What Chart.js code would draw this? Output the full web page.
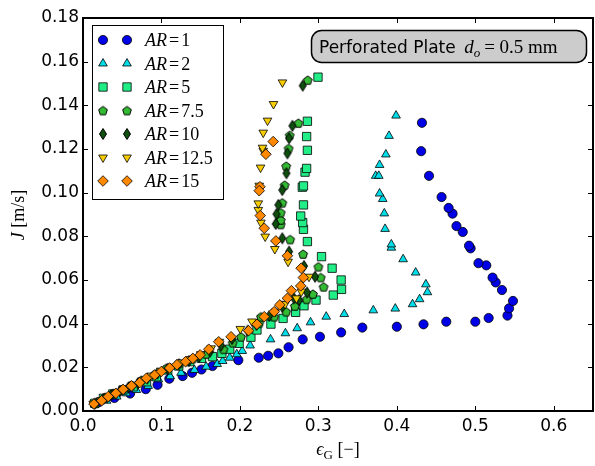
<!DOCTYPE html>
<html>
<head>
<meta charset="utf-8">
<script src="https://cdn.jsdelivr.net/npm/chart.js@4.4.1/dist/chart.umd.min.js"></script>
<style>
  body { margin: 0; background: #fff; }
  #wrap { width: 595px; height: 466px; }
</style>
</head>
<body>
<div id="wrap"><canvas id="chart" width="595" height="466"></canvas></div>
<script>
// data: [eps_G, J]
const arLabels = ['1', '2', '5', '7.5', '10', '12.5', '15']
const xTicks = [0, 0.1, 0.2, 0.3, 0.4, 0.5, 0.6]
const yTicks = [0, 0.02, 0.04, 0.06, 0.08, 0.10, 0.12, 0.14, 0.16, 0.18]

const ar1 = [[0.02,0.004],[0.04,0.006],[0.06,0.008],[0.08,0.010],[0.095,0.012],[0.11,0.0148],[0.127,0.016],[0.139,0.0175],
  [0.151,0.019],[0.165,0.0206],[0.198,0.0233],[0.224,0.0244],[0.236,0.0253],[0.249,0.0264],[0.262,0.0292],[0.280,0.0328],
  [0.302,0.034],[0.329,0.036],[0.356,0.0382],[0.400,0.0386],[0.434,0.0397],[0.463,0.0409],[0.500,0.0409],[0.517,0.0426],
  [0.541,0.0437],[0.543,0.047],[0.548,0.0504],[0.534,0.0554],[0.526,0.0589],[0.522,0.0611],[0.514,0.0667],[0.504,0.0677],
  [0.494,0.0745],[0.492,0.0757],[0.484,0.082],[0.476,0.0847],[0.471,0.0904],[0.466,0.093],[0.457,0.098],[0.441,0.1077],
  [0.431,0.119],[0.432,0.132]]
const ar2 = [[0.015,0.0032],[0.030,0.0047],[0.043,0.0066],[0.055,0.0081],[0.068,0.0096],[0.083,0.0115],[0.096,0.0145],
  [0.111,0.0159],[0.125,0.0175],[0.142,0.0188],[0.157,0.0203],[0.171,0.0215],[0.178,0.0229],[0.187,0.0244],[0.196,0.026],
  [0.203,0.0275],[0.213,0.030],[0.239,0.0328],[0.258,0.0356],[0.273,0.0379],[0.290,0.0406],[0.310,0.0432],[0.333,0.0444],
  [0.370,0.0461],[0.398,0.0469],[0.420,0.0489],[0.429,0.0512],[0.439,0.0544],[0.437,0.058],[0.424,0.0634],[0.408,0.0695],
  [0.393,0.0748],[0.393,0.0763],[0.385,0.0834],[0.384,0.0905],[0.382,0.0971],[0.378,0.0996],[0.373,0.1077],[0.377,0.1077],
  [0.378,0.1127],[0.386,0.1175],[0.390,0.126],[0.399,0.1353]]
const ar5 = [[0.015,0.0035],[0.026,0.0058],[0.038,0.0078],[0.051,0.0096],[0.064,0.0111],[0.081,0.0134],[0.0935,0.0157],
  [0.108,0.0188],[0.122,0.0206],[0.136,0.0226],[0.151,0.0241],[0.165,0.0249],[0.177,0.0264],[0.187,0.0283],[0.199,0.031],
  [0.214,0.0338],[0.2217,0.0371],[0.2395,0.0398],[0.255,0.0424],[0.271,0.0452],[0.2817,0.0482],[0.297,0.0508],[0.319,0.0531],
  [0.3295,0.0557],[0.329,0.060],[0.3175,0.0654],[0.304,0.0707],[0.286,0.0776],[0.281,0.0832],[0.280,0.0863],[0.2775,0.0893],
  [0.281,0.0944],[0.2795,0.1025],[0.281,0.1031],[0.283,0.1094],[0.285,0.1111],[0.286,0.1194],[0.285,0.1257],[0.286,0.1327],
  [0.2995,0.1529]]
const ar75 = [[0.0152,0.0035],[0.0279,0.0063],[0.0385,0.0081],[0.0503,0.0099],[0.0618,0.0119],[0.0745,0.0142],[0.0914,0.0169],
  [0.106,0.0196],[0.123,0.0218],[0.14,0.0241],[0.157,0.0261],[0.179,0.0283],[0.1907,0.0313],[0.2014,0.034],[0.2246,0.0402],
  [0.2268,0.0432],[0.2437,0.0432],[0.259,0.0455],[0.270,0.0481],[0.285,0.0512],[0.293,0.0536],[0.3066,0.0569],[0.303,0.0612],
  [0.300,0.0661],[0.2805,0.0719],[0.264,0.0786],[0.252,0.0855],[0.252,0.0875],[0.252,0.0909],[0.254,0.0954],[0.257,0.1035],
  [0.259,0.1122],[0.262,0.1203],[0.2635,0.1263],[0.2745,0.1319],[0.2864,0.1516]]
const ar10 = [[0.015,0.0034],[0.026,0.0055],[0.036,0.0073],[0.047,0.009],[0.058,0.0108],[0.070,0.0127],[0.082,0.0148],
  [0.095,0.0172],[0.108,0.0193],[0.122,0.0213],[0.135,0.0229],[0.148,0.0248],[0.162,0.0272],[0.176,0.030],[0.19,0.033],
  [0.2098,0.0368],[0.2212,0.0394],[0.2373,0.0435],[0.254,0.0478],[0.269,0.0516],[0.2754,0.0508],[0.2855,0.0543],
  [0.2957,0.0615],[0.2817,0.0664],[0.2627,0.073],[0.254,0.0791],[0.2456,0.0857],[0.2466,0.0902],[0.249,0.0944],
  [0.254,0.1012],[0.2593,0.1089],[0.2605,0.118],[0.2627,0.1249],[0.2669,0.1306],[0.280,0.149]]
const ar125 = [[0.013,0.0034],[0.023,0.005],[0.033,0.0068],[0.043,0.0085],[0.053,0.0103],[0.064,0.0121],[0.076,0.014],
  [0.087,0.0162],[0.099,0.0184],[0.112,0.0203],[0.124,0.0222],[0.137,0.0238],[0.15,0.026],[0.1633,0.0287],[0.1739,0.0317],
  [0.2005,0.0376],[0.2154,0.041],[0.245,0.0455],[0.2576,0.049],[0.272,0.0516],[0.2783,0.0547],[0.288,0.0615],[0.2614,0.0684],
  [0.2445,0.0742],[0.2322,0.0799],[0.2268,0.0863],[0.2234,0.0921],[0.2234,0.0951],[0.2246,0.1032],[0.2263,0.1115],
  [0.2297,0.1192],[0.2288,0.1206],[0.2297,0.1275],[0.2352,0.133],[0.2428,0.1406],[0.2542,0.1505]]
const ar15 = [[0.014,0.0032],[0.0237,0.0047],[0.0321,0.0066],[0.0419,0.0081],[0.0511,0.0099],[0.0618,0.0115],[0.0723,0.013],
  [0.0808,0.015],[0.0914,0.0165],[0.0999,0.0181],[0.1104,0.0197],[0.1197,0.0212],[0.1307,0.0226],[0.14,0.0241],[0.1493,0.0257],
  [0.1603,0.0283],[0.173,0.0317],[0.1887,0.034],[0.211,0.0368],[0.2217,0.0397],[0.231,0.0432],[0.2437,0.0455],[0.2508,0.0486],
  [0.2605,0.0516],[0.2656,0.0551],[0.2775,0.0573],[0.2809,0.0611],[0.278,0.0654],[0.2605,0.0711],[0.2458,0.0779],
  [0.231,0.0837],[0.2259,0.0895],[0.2255,0.1027],[0.2246,0.1009],[0.2331,0.1176],[0.2424,0.1234]]

const series = [ar1, ar2, ar5, ar75, ar10, ar125, ar15]

// little canvases for the marker shapes chart.js lacks
function shape(w, h, fill, pathFn) {
  const c = document.createElement('canvas')
  c.width = w; c.height = h
  const g = c.getContext('2d')
  g.beginPath()
  pathFn(g, w, h)
  g.closePath()
  g.fillStyle = fill
  g.fill()
  g.lineWidth = 1
  g.strokeStyle = '#000'
  g.stroke()
  return c
}
const pentagon = shape(12, 12, '#33bb33', function(g, w, h) {
  for (let i = 0; i < 5; i++) {
    const a = -Math.PI / 2 + i * 2 * Math.PI / 5
    const px = w / 2 + 4.6 * Math.cos(a), py = h / 2 + 0.5 + 4.6 * Math.sin(a)
    i == 0 ? g.moveTo(px, py) : g.lineTo(px, py)
  }
})
const thinDiamond = shape(10, 14, '#0e4f0e', function(g, w, h) {
  g.moveTo(w / 2, 1.5); g.lineTo(w - 1.5, h / 2); g.lineTo(w / 2, h - 1.5); g.lineTo(1.5, h / 2)
})

const styles = [
  { pointStyle: 'circle', radius: 4.6, color: '#0000e6', rotation: 0 },
  { pointStyle: 'triangle', radius: 5, color: '#00dde8', rotation: 0 },
  { pointStyle: 'rect', radius: 5.9, color: '#22ee88', rotation: 0 },
  { pointStyle: pentagon, radius: 5, color: '#33bb33', rotation: 0 },
  { pointStyle: thinDiamond, radius: 5, color: '#0e4f0e', rotation: 0 },
  { pointStyle: 'triangle', radius: 5, color: '#f7cc00', rotation: 180 },
  { pointStyle: 'rectRot', radius: 5.3, color: '#ff8800', rotation: 0 }
]

const datasets = series.map(function(pts, i) {
  const s = styles[i]
  return {
    label: 'AR=' + arLabels[i],
    data: pts.map(function(p) { return { x: p[0], y: p[1] } }),
    pointStyle: s.pointStyle,
    pointRadius: s.radius,
    pointRotation: s.rotation,
    backgroundColor: s.color,
    borderColor: '#000',
    borderWidth: 0.8,
    order: series.length - 1 - i
  }
})

function line(ctx, x1, y1, x2, y2) {
  ctx.beginPath(); ctx.moveTo(x1, y1); ctx.lineTo(x2, y2); ctx.stroke()
}

const decor = {
  id: 'decor',
  afterDatasetsDraw(chart) {
    const ctx = chart.ctx
    const a = chart.chartArea
    const sx = chart.scales.x, sy = chart.scales.y
    ctx.save()
    ctx.strokeStyle = '#000'
    ctx.lineWidth = 1
    xTicks.forEach(function(v) {
      const px = Math.round(sx.getPixelForValue(v)) + 0.5
      line(ctx, px, a.bottom, px, a.bottom - 5)
      line(ctx, px, a.top, px, a.top + 5)
    })
    yTicks.forEach(function(v) {
      const py = Math.round(sy.getPixelForValue(v)) + 0.5
      line(ctx, a.left, py, a.left + 5, py)
      line(ctx, a.right, py, a.right - 5, py)
    })
    ctx.lineWidth = 2
    ctx.strokeRect(a.left, a.top, a.right - a.left, a.bottom - a.top)

    // legend, two markers per entry like matplotlib
    ctx.fillStyle = '#fff'
    ctx.fillRect(92, 25, 131, 174)
    ctx.lineWidth = 1
    ctx.strokeRect(92.5, 25.5, 131, 174)
    ctx.textBaseline = 'alphabetic'
    styles.forEach(function(s, i) {
      const yy = 40 + i * 23.5
      ctx.fillStyle = s.color
      ctx.strokeStyle = '#000'
      ctx.lineWidth = 0.8
      const opt = { pointStyle: s.pointStyle, radius: s.radius, rotation: s.rotation, borderWidth: 0.8 }
      Chart.helpers.drawPoint(ctx, opt, 103, yy)
      Chart.helpers.drawPoint(ctx, opt, 127, yy)
      ctx.fillStyle = '#000'
      let tx = 145
      ctx.font = 'italic 18px "Liberation Serif"'
      ctx.fillText('AR', tx, yy + 6)
      tx += ctx.measureText('AR').width + 2
      ctx.font = '18px "Liberation Serif"'
      ctx.fillText('=', tx, yy + 6)
      tx += ctx.measureText('=').width + 2
      ctx.fillText(arLabels[i], tx, yy + 6)
    })

    // annotation box
    ctx.beginPath()
    ctx.roundRect(311.5, 30.5, 275, 32, 10)
    ctx.fillStyle = '#cccccc'
    ctx.fill()
    ctx.lineWidth = 1.5
    ctx.strokeStyle = '#000'
    ctx.stroke()
    ctx.fillStyle = '#000'
    let bx = 319
    ctx.font = '17px "DejaVu Sans"'
    ctx.fillText('Perforated Plate ', bx, 53)
    bx += ctx.measureText('Perforated Plate ').width + 3
    ctx.font = 'italic 19px "Liberation Serif"'
    ctx.fillText('d', bx, 53)
    bx += ctx.measureText('d').width
    ctx.font = 'italic 13px "Liberation Serif"'
    ctx.fillText('o', bx, 57)
    bx += ctx.measureText('o').width + 4
    ctx.font = '19px "Liberation Serif"'
    ctx.fillText('= 0.5 mm', bx, 53)

    // axis titles
    ctx.font = 'italic 18px "Liberation Serif"'
    const w1 = ctx.measureText('\u03f5').width
    ctx.font = '13px "Liberation Serif"'
    const w2 = ctx.measureText('G').width
    ctx.font = '18px "Liberation Serif"'
    const w3 = ctx.measureText(' [\u2212]').width
    let ax = 338 - (w1 + w2 + w3) / 2
    ctx.font = 'italic 18px "Liberation Serif"'
    ctx.fillText('\u03f5', ax, 455)
    ax += w1
    ctx.font = '13px "Liberation Serif"'
    ctx.fillText('G', ax, 459)
    ax += w2
    ctx.font = '18px "Liberation Serif"'
    ctx.fillText(' [\u2212]', ax, 455)

    ctx.translate(24, 215)
    ctx.rotate(-Math.PI / 2)
    ctx.font = 'italic 18px "Liberation Serif"'
    const j1 = ctx.measureText('J ').width
    ctx.font = '18px "Liberation Serif"'
    const j2 = ctx.measureText('[m/s]').width
    ctx.font = 'italic 18px "Liberation Serif"'
    ctx.fillText('J ', -(j1 + j2) / 2, 0)
    ctx.font = '18px "Liberation Serif"'
    ctx.fillText('[m/s]', -(j1 + j2) / 2 + j1, 0)
    ctx.restore()
  }
}

const chart = new Chart('chart', {
  type: 'scatter',
  data: { datasets: datasets },
  options: {
    responsive: false,
    devicePixelRatio: 1,
    animation: false,
    events: [],
    layout: { autoPadding: false, padding: { left: 0, right: 2, top: 18, bottom: 0 } },
    plugins: { legend: { display: false }, tooltip: { enabled: false } },
    scales: {
      x: {
        type: 'linear', min: 0, max: 0.65,
        grid: { display: false, drawTicks: false },
        border: { display: false },
        afterBuildTicks: function(s) { s.ticks = xTicks.map(function(v) { return { value: v } }) },
        afterFit: function(s) { s.height = 55 },
        ticks: {
          color: '#000', padding: 5,
          font: { family: 'DejaVu Sans', size: 17 },
          callback: function(v) { return v.toFixed(1) }
        }
      },
      y: {
        type: 'linear', min: 0, max: 0.18,
        grid: { display: false, drawTicks: false },
        border: { display: false },
        afterBuildTicks: function(s) { s.ticks = yTicks.map(function(v) { return { value: v } }) },
        afterFit: function(s) { s.width = 83 },
        ticks: {
          color: '#000', padding: 4,
          font: { family: 'DejaVu Sans', size: 17 },
          callback: function(v) { return v.toFixed(2) }
        }
      }
    }
  },
  plugins: [decor]
})
</script>
</body>
</html>
